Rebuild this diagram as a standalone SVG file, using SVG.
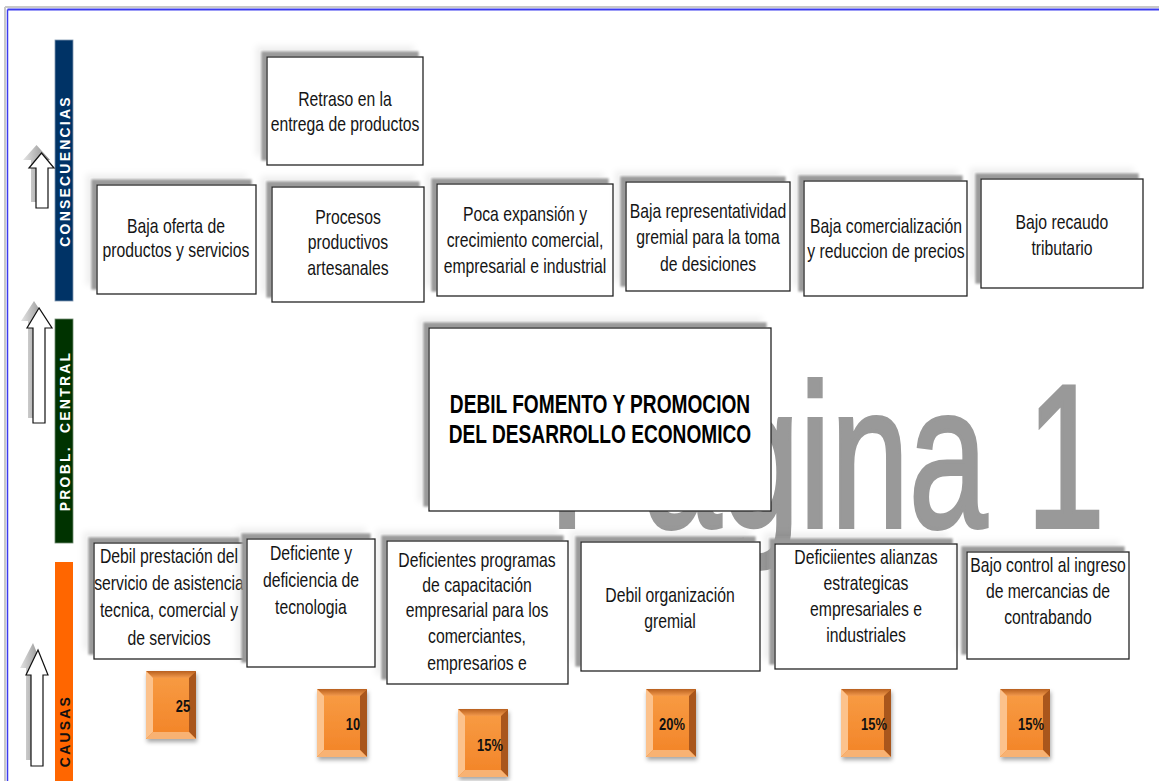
<svg xmlns="http://www.w3.org/2000/svg" width="1159" height="781" viewBox="0 0 1159 781">
<style>
.box{fill:#fff;stroke:#222;stroke-width:1.3}
.t{font-family:"Liberation Sans",Arial,sans-serif;font-size:21px;fill:#151515;text-anchor:middle}
.ct{font-family:"Liberation Sans",Arial,sans-serif;font-size:25px;font-weight:bold;fill:#000;text-anchor:middle}
.bt{font-family:"Liberation Sans",Arial,sans-serif;font-size:17px;font-weight:bold;fill:#111;text-anchor:middle}
.side{font-family:"Liberation Sans",Arial,sans-serif;font-size:14px;font-weight:bold;letter-spacing:2.2px;text-anchor:middle}
.arrow{fill:#fff;stroke:#111;stroke-width:1.2}
.ash{fill:url(#ashg)}
</style>
<defs>
<filter id="sh" x="-25%" y="-25%" width="150%" height="150%">
<feOffset in="SourceAlpha" dx="-10" dy="-10" result="o2"/>
<feGaussianBlur in="o2" stdDeviation="3" result="b2"/>
<feFlood flood-color="#000" flood-opacity="0.07"/>
<feComposite in2="b2" operator="in" result="halo"/>
<feOffset in="SourceAlpha" dx="-5" dy="-5" result="o1"/>
<feGaussianBlur in="o1" stdDeviation="0.8" result="b1"/>
<feFlood flood-color="#9a9a9a"/>
<feComposite in2="b1" operator="in" result="s1"/>
<feMerge><feMergeNode in="halo"/><feMergeNode in="s1"/><feMergeNode in="SourceGraphic"/></feMerge>
</filter>
<filter id="bsh" x="-20%" y="-20%" width="150%" height="150%">
<feGaussianBlur in="SourceAlpha" stdDeviation="2"/>
<feOffset dx="1" dy="3" result="b"/>
<feFlood flood-color="#000" flood-opacity="0.35"/>
<feComposite in2="b" operator="in"/>
<feMerge><feMergeNode/><feMergeNode in="SourceGraphic"/></feMerge>
</filter>
<linearGradient id="ashg" x1="0" y1="0" x2="1" y2="0">
<stop offset="0" stop-color="#e4e4e4"/>
<stop offset="1" stop-color="#858585"/>
</linearGradient>
<linearGradient id="face" x1="0" y1="0" x2="0" y2="1">
<stop offset="0" stop-color="#f79a42"/>
<stop offset="1" stop-color="#f3862a"/>
</linearGradient>
<linearGradient id="topb" x1="0" y1="0" x2="0" y2="1">
<stop offset="0" stop-color="#b8601f"/>
<stop offset="1" stop-color="#f49a4c"/>
</linearGradient>
<g id="blk">
<rect x="0" y="0" width="50" height="68" fill="url(#face)"/>
<polygon points="0,0 50,0 43,7 7,7" fill="url(#topb)"/>
<polygon points="0,0 7,7 7,61 0,68" fill="#fcc28c"/>
<polygon points="50,0 50,68 43,61 43,7" fill="#a9561a"/>
<polygon points="0,68 50,68 43,61 7,61" fill="#f8b273"/>
<rect x="7" y="7" width="36" height="54" fill="url(#face)"/>
</g>
</defs>
<rect width="1159" height="781" fill="#fff"/>
<!-- page frame -->
<line x1="5" y1="7" x2="1159" y2="7" stroke="#c8c8c8" stroke-width="2"/>
<line x1="5" y1="7" x2="5" y2="781" stroke="#c8c8c8" stroke-width="2"/>
<line x1="7.5" y1="9.5" x2="1159" y2="9.5" stroke="#3c3cee" stroke-width="2"/>
<line x1="7.5" y1="9.5" x2="7.5" y2="781" stroke="#3c3cee" stroke-width="1.5"/>
<!-- watermark -->
<text transform="translate(549,527) scale(0.69,1)" font-family="Liberation Sans, Arial, sans-serif" font-size="204" fill="#999" stroke="#999" stroke-width="4">Página 1</text>
<!-- side bars -->
<g id="bar-consecuencias">
<rect x="55" y="40" width="18" height="261" fill="#003366" stroke="#7f97b0" stroke-width="0.8"/>
<text class="side" fill="#fff" transform="translate(70,171) rotate(-90)">CONSECUENCIAS</text>
</g>
<g id="bar-central">
<rect x="55" y="319" width="18" height="224" fill="#003300" stroke="#6f8a6f" stroke-width="0.8"/>
<text class="side" fill="#fff" transform="translate(70,431) rotate(-90)">PROBL.&#160; CENTRAL</text>
</g>
<g id="bar-causas">
<rect x="55" y="562" width="18" height="222" fill="#ff6600"/>
<text class="side" fill="#111" transform="translate(70,731) rotate(-90)">CAUSAS</text>
</g>
<!-- arrows -->
<g id="connectors">
<polygon class="ash" points="36.5,145 23,160 31,160 31,202 43,202 43,160 50,160"/>
<polygon class="arrow" points="41.5,153 29,168 36,168 36,208 48,208 48,168 54,168"/>
<polygon class="ash" points="34,301 21,321 28,321 28,418 40,418 40,321 47,321"/>
<polygon class="arrow" points="39,308 27,328 33,328 33,423 45,423 45,328 52,328"/>
<polygon class="ash" points="33,643 20,668 26,668 26,760 38,760 38,668 43,668"/>
<polygon class="arrow" points="38,650 26,675 31,675 31,766 43,766 43,675 48,675"/>
</g>
<!-- consequences -->
<g id="c-retraso">
<rect class="box" x="267" y="57" width="156" height="108" filter="url(#sh)"/>
<text class="t" transform="translate(345,0) scale(0.75,1)"><tspan x="0" y="106">Retraso en la</tspan><tspan x="0" y="131">entrega de productos</tspan></text>
</g>
<g id="c-oferta">
<rect class="box" x="97" y="185" width="159" height="109" filter="url(#sh)"/>
<text class="t" transform="translate(176,0) scale(0.75,1)"><tspan x="0" y="233">Baja oferta de</tspan><tspan x="0" y="257">productos y servicios</tspan></text>
</g>
<g id="c-procesos">
<rect class="box" x="272" y="187" width="152" height="115" filter="url(#sh)"/>
<text class="t" transform="translate(348,0) scale(0.75,1)"><tspan x="0" y="224">Procesos</tspan><tspan x="0" y="249">productivos</tspan><tspan x="0" y="275">artesanales</tspan></text>
</g>
<g id="c-expansion">
<rect class="box" x="437" y="184" width="176" height="112" filter="url(#sh)"/>
<text class="t" transform="translate(525,0) scale(0.75,1)"><tspan x="0" y="221">Poca expansión y</tspan><tspan x="0" y="247">crecimiento comercial,</tspan><tspan x="0" y="273">empresarial e industrial</tspan></text>
</g>
<g id="c-representatividad">
<rect class="box" x="626" y="182" width="164" height="109" filter="url(#sh)"/>
<text class="t" transform="translate(708,0) scale(0.75,1)"><tspan x="0" y="218">Baja representatividad</tspan><tspan x="0" y="244">gremial para la toma</tspan><tspan x="0" y="271">de desiciones</tspan></text>
</g>
<g id="c-comercializacion">
<rect class="box" x="804" y="181" width="163" height="115" filter="url(#sh)"/>
<text class="t" transform="translate(886,0) scale(0.75,1)"><tspan x="0" y="233">Baja comercialización</tspan><tspan x="0" y="258">y reduccion de precios</tspan></text>
</g>
<g id="c-recaudo">
<rect class="box" x="981" y="179" width="162" height="109" filter="url(#sh)"/>
<text class="t" transform="translate(1062,0) scale(0.75,1)"><tspan x="0" y="229">Bajo recaudo</tspan><tspan x="0" y="255">tributario</tspan></text>
</g>
<!-- central problem -->
<g id="central">
<rect class="box" x="429" y="328" width="342" height="183" filter="url(#sh)"/>
<text class="ct" transform="translate(600,0) scale(0.765,1)"><tspan x="0" y="413">DEBIL FOMENTO Y PROMOCION</tspan><tspan x="0" y="443">DEL DESARROLLO ECONOMICO</tspan></text>
</g>
<!-- causes -->
<g id="k-prestacion">
<rect class="box" x="94" y="543" width="150" height="116" filter="url(#sh)"/>
<text class="t" transform="translate(169,0) scale(0.75,1)"><tspan x="0" y="563">Debil prestación del</tspan><tspan x="0" y="590">servicio de asistencia</tspan><tspan x="0" y="617">tecnica, comercial y</tspan><tspan x="0" y="645">de servicios</tspan></text>
</g>
<g id="k-tecnologia">
<rect class="box" x="247" y="539" width="128" height="128" filter="url(#sh)"/>
<text class="t" transform="translate(311,0) scale(0.75,1)"><tspan x="0" y="560">Deficiente y</tspan><tspan x="0" y="587">deficiencia de</tspan><tspan x="0" y="614">tecnologia</tspan></text>
</g>
<g id="k-programas">
<rect class="box" x="387" y="541" width="181" height="143" filter="url(#sh)"/>
<text class="t" transform="translate(477,0) scale(0.75,1)"><tspan x="0" y="567">Deficientes programas</tspan><tspan x="0" y="592">de capacitación</tspan><tspan x="0" y="617">empresarial para los</tspan><tspan x="0" y="643">comerciantes,</tspan><tspan x="0" y="670">empresarios e</tspan></text>
</g>
<g id="k-organizacion">
<rect class="box" x="581" y="542" width="179" height="129" filter="url(#sh)"/>
<text class="t" transform="translate(670,0) scale(0.75,1)"><tspan x="0" y="602">Debil organización</tspan><tspan x="0" y="628">gremial</tspan></text>
</g>
<g id="k-alianzas">
<rect class="box" x="775" y="544" width="182" height="125" filter="url(#sh)"/>
<text class="t" transform="translate(866,0) scale(0.75,1)"><tspan x="0" y="564">Deficiientes alianzas</tspan><tspan x="0" y="590">estrategicas</tspan><tspan x="0" y="616">empresariales e</tspan><tspan x="0" y="642">industriales</tspan></text>
</g>
<g id="k-contrabando">
<rect class="box" x="967" y="552" width="162" height="107" filter="url(#sh)"/>
<text class="t" transform="translate(1048,0) scale(0.75,1)"><tspan x="0" y="572">Bajo control al ingreso</tspan><tspan x="0" y="598">de mercancias de</tspan><tspan x="0" y="624">contrabando</tspan></text>
</g>
<!-- weight blocks -->
<g id="w-25"><use href="#blk" x="146" y="671" filter="url(#bsh)"/><text class="bt" transform="translate(183,0) scale(0.76,1)" x="0" y="712">25</text></g>
<g id="w-10"><use href="#blk" x="317" y="689" filter="url(#bsh)"/><text class="bt" transform="translate(353,0) scale(0.76,1)" x="0" y="730">10</text></g>
<g id="w-15a"><use href="#blk" x="458" y="709" filter="url(#bsh)"/><text class="bt" transform="translate(490,0) scale(0.76,1)" x="0" y="751">15%</text></g>
<g id="w-20"><use href="#blk" x="646" y="689" filter="url(#bsh)"/><text class="bt" transform="translate(672,0) scale(0.76,1)" x="0" y="730">20%</text></g>
<g id="w-15b"><use href="#blk" x="841" y="689" filter="url(#bsh)"/><text class="bt" transform="translate(874,0) scale(0.76,1)" x="0" y="730">15%</text></g>
<g id="w-15c"><use href="#blk" x="1000" y="689" filter="url(#bsh)"/><text class="bt" transform="translate(1031,0) scale(0.76,1)" x="0" y="730">15%</text></g>
</svg>
